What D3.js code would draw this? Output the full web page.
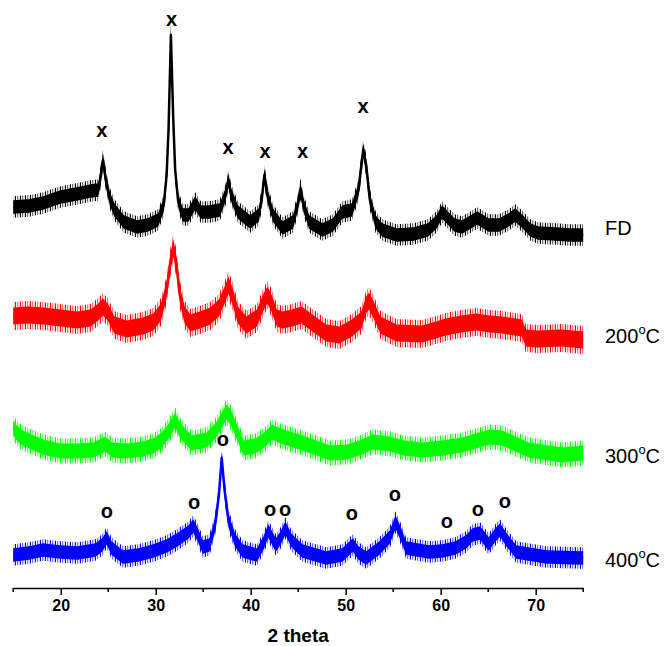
<!DOCTYPE html>
<html>
<head>
<meta charset="utf-8">
<script src="https://cdn.jsdelivr.net/npm/d3@7"></script>
<style>
  body { margin: 0; background: #fff; }
  svg { display: block; }
  text { font-family: Arial, "Liberation Sans", sans-serif; }
</style>
</head>
<body>
<svg id="chart" width="665" height="646"></svg>
<script>
// XRD patterns (2θ in degrees, intensity in a.u., stacked)
const fdPattern = [
  [15.0,381],[16.65,382],[18.15,385],[19.95,391],[21.65,394],[23.15,397],[23.95,398],
  [24.15,408],[24.45,428],[24.75,408],[25.15,390],[25.65,378],[26.65,366],[28.05,361],
  [29.15,363],[30.25,368],[30.85,383],[31.15,413],[31.35,458],[31.6,553],[31.85,468],
  [32.05,418],[32.35,388],[32.85,373],[33.45,373],[34.15,385],[34.75,376],[35.65,376],
  [36.75,378],[37.35,393],[37.65,408],[37.95,393],[38.65,376],[39.95,366],[40.85,373],
  [41.15,388],[41.45,413],[41.75,393],[42.35,373],[43.35,360],[44.45,366],[44.95,383],
  [45.25,399],[45.55,383],[46.15,366],[47.55,358],[48.65,363],[49.65,376],[50.65,378],
  [51.35,398],[51.65,423],[51.85,438],[52.15,423],[52.55,388],[53.15,366],[53.85,358],
  [55.35,353],[57.15,354],[58.65,358],[59.55,366],[60.15,376],[60.75,370],[61.45,363],
  [62.25,361],[63.15,366],[63.85,370],[65.05,363],[66.15,363],[67.15,368],[67.85,373],
  [68.65,366],[69.45,358],[70.25,355],[72.15,354],[73.65,353],[75.0,353]
];
const t200Pattern = [
  [15.0,272],[16.65,273],[18.15,272],[19.95,270],[21.75,268],[23.15,270],[23.95,276],
  [24.45,281],[24.95,276],[25.65,263],[26.95,259],[28.65,262],[29.75,266],[30.55,276],
  [31.15,298],[31.55,326],[31.85,340],[32.15,326],[32.55,293],[33.05,273],[33.65,265],
  [34.65,268],[35.75,272],[36.65,280],[37.35,295],[37.65,303],[38.05,293],[38.65,273],
  [39.55,263],[40.65,270],[41.35,286],[41.75,293],[42.15,286],[42.75,270],[43.35,268],
  [44.35,270],[45.35,273],[46.35,266],[47.95,255],[49.35,253],[50.65,260],[51.65,268],
  [52.15,283],[52.45,287],[52.85,280],[53.65,263],[55.35,255],[58.05,254],[60.55,261],
  [62.15,264],[63.75,266],[65.15,264],[66.45,263],[68.55,260],[68.95,250],[70.15,249],
  [72.75,250],[75.0,248]
];
const t300Pattern = [
  [15.0,160],[15.65,152],[16.45,148],[18.15,141],[19.95,137],[21.65,137],[23.45,138],
  [24.65,144],[25.45,138],[26.95,137],[28.65,139],[29.75,142],[30.65,148],[31.45,158],
  [32.05,168],[32.55,158],[33.75,145],[35.35,148],[36.35,158],[36.95,168],[37.45,176],
  [37.95,170],[38.55,156],[39.25,140],[40.45,142],[41.45,148],[42.25,156],[43.15,152],
  [45.45,145],[46.65,141],[48.35,135],[50.15,136],[51.45,140],[52.85,146],[54.65,144],
  [56.15,140],[58.05,138],[60.15,140],[62.25,143],[64.05,148],[65.15,151],[66.45,150],
  [67.65,145],[69.25,138],[72.75,133],[75.0,135]
];
const t400Pattern = [
  [15.0,33],[16.65,35],[18.15,38],[19.95,36],[21.75,35],[23.65,38],[24.35,43],[24.85,50],
  [25.35,40],[26.55,31],[28.15,33],[29.75,37],[31.15,42],[32.25,48],[33.45,56],[33.95,62],
  [34.45,53],[34.95,41],[35.65,43],[36.25,63],[36.65,93],[36.95,130],[37.25,98],[37.65,68],
  [38.35,48],[39.15,37],[40.65,33],[41.35,45],[41.85,57],[42.65,43],[43.15,50],[43.65,60],
  [44.25,48],[45.45,37],[47.95,30],[49.65,33],[50.75,43],[51.35,35],[52.15,30],[53.55,40],
  [54.65,51],[55.25,66],[55.85,53],[56.35,40],[58.75,36],[60.15,37],[61.55,40],[62.65,46],
  [63.35,53],[64.15,55],[65.05,44],[65.75,53],[66.25,58],[66.95,48],[67.95,36],[71.15,31],
  [75.0,30]
];

// half-width of the counting-noise band for each pattern (a.u.)
const noiseAmplitude = [7, 9, 8, 7];

const seriesNames = ["FD", "200", "300", "400"];
const seriesColors = ["#000000", "#ff0000", "#00ff00", "#0000ff"];
const seriesData = [fdPattern, t200Pattern, t300Pattern, t400Pattern];

// reflection markers: x = FD phase, o = 400 °C phase
const xMarkers = [[24.32,456],[31.68,567],[37.61,439],[41.51,435],[45.47,435],[51.82,480]];
const oMarkers = [[24.87,75],[34.03,84],[37.08,147],[42.03,77],[43.61,77],[50.66,73],
                  [55.18,92],[60.66,65],[63.92,77],[66.76,85]];

const xTickValues = [20, 30, 40, 50, 60, 70];
const xMinorTicks = [15, 25, 35, 45, 55, 65, 75];
const xTitle = "2 theta";

// ---- layout ----
const svg = d3.select("#chart");
const x = d3.scaleLinear().domain([15, 75]).range([13.2, 583.2]);
const y = d3.scaleLinear().domain([0, 576]).range([588, 12]);
const labelX = 605;
const labelBaselines = [235, 343, 463, 567];

// comb textures that give the noise fringe its spiky look
const defs = svg.append("defs");
seriesColors.forEach((c, i) => {
  const p = defs.append("pattern")
    .attr("id", "comb" + i).attr("patternUnits", "userSpaceOnUse")
    .attr("width", 5).attr("height", 40);
  p.append("rect").attr("x", 0).attr("y", 0).attr("width", 1).attr("height", 40).attr("fill", c);
  p.append("rect").attr("x", 2).attr("y", 0).attr("width", 1).attr("height", 40)
    .attr("fill", c).attr("fill-opacity", 0.55);
  p.append("rect").attr("x", 3.5).attr("y", 0).attr("width", 1).attr("height", 40)
    .attr("fill", c).attr("fill-opacity", 0.3);
});

const plot = svg.append("g");

seriesData.forEach((data, i) => {
  const a = noiseAmplitude[i];
  const color = seriesColors[i];
  const outer = d3.area()
    .x(d => x(d[0]))
    .y0(d => y(d[1] - a * 1.55))
    .y1(d => y(d[1] + a * 1.55));
  const core = d3.area()
    .x(d => x(d[0]))
    .y0(d => y(d[1] - a * 0.95))
    .y1(d => y(d[1] + a * 0.95));
  const line = d3.line().x(d => x(d[0])).y(d => y(d[1]));

  plot.append("path").attr("d", outer(data))
    .attr("fill", `url(#comb${i})`);
  plot.append("path").attr("d", core(data))
    .attr("fill", color);
  plot.append("path").attr("d", line(data))
    .attr("fill", "none").attr("stroke", color)
    .attr("stroke-width", 2.5).attr("stroke-linejoin", "round");
});

// peak markers
const markerGroup = svg.append("g")
  .attr("font-weight", "bold").attr("font-size", 20)
  .attr("text-anchor", "middle").attr("fill", "#000");
markerGroup.selectAll("text.xm").data(xMarkers).join("text")
  .attr("class", "xm")
  .attr("x", d => x(d[0])).attr("y", d => y(d[1]) + 5)
  .text("x");
markerGroup.selectAll("text.om").data(oMarkers).join("text")
  .attr("class", "om")
  .attr("x", d => x(d[0])).attr("y", d => y(d[1]) + 5)
  .text("o");

// series labels
seriesNames.forEach((name, i) => {
  const t = svg.append("text")
    .attr("x", labelX).attr("y", labelBaselines[i])
    .attr("font-size", 20).attr("fill", "#000");
  if (name === "FD") {
    t.text(name);
  } else {
    t.append("tspan").text(name);
    t.append("tspan").attr("font-size", 13).attr("dy", -9).text("o");
    t.append("tspan").attr("dy", 9).text("C");
  }
});

// x axis
const axis = svg.append("g").attr("transform", `translate(0,${y(0)})`)
  .call(d3.axisBottom(x).tickValues(xTickValues).tickSize(7).tickSizeOuter(0)
    .tickPadding(5).tickFormat(d3.format("d")));
axis.select(".domain").attr("stroke", "#000").attr("stroke-width", 1.5);
axis.selectAll(".tick line").attr("stroke", "#000").attr("stroke-width", 1.5);
axis.selectAll(".tick text").attr("font-size", 16).attr("font-weight", "bold")
  .attr("font-family", "Arial, 'Liberation Sans', sans-serif").attr("fill", "#000");
axis.selectAll("line.minor").data(xMinorTicks).join("line")
  .attr("class", "minor")
  .attr("x1", d => x(d)).attr("x2", d => x(d))
  .attr("y1", 0).attr("y2", 4)
  .attr("stroke", "#000").attr("stroke-width", 1.5);

svg.append("text")
  .attr("x", (x(15) + x(75)) / 2).attr("y", 642)
  .attr("text-anchor", "middle")
  .attr("font-size", 19).attr("font-weight", "bold")
  .text(xTitle);
</script>
</body>
</html>
